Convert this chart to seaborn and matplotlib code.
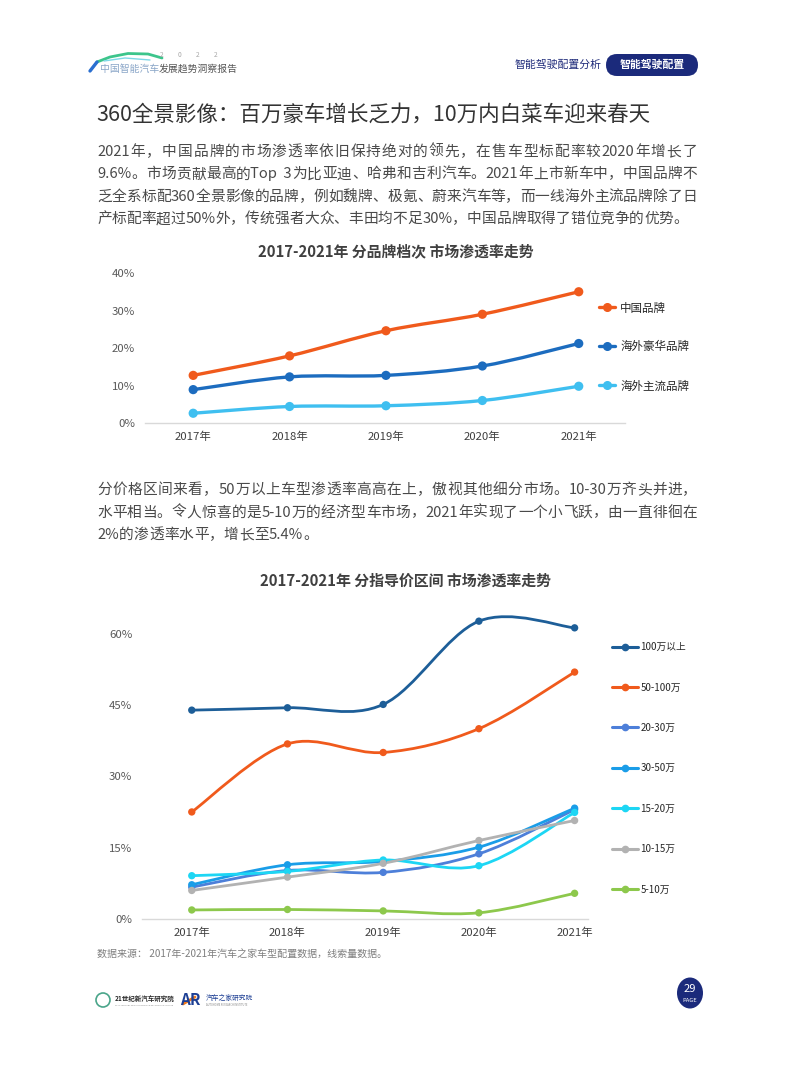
import re
import numpy as np
import pandas as pd
import seaborn as sns
import matplotlib
matplotlib.use("Agg")
import matplotlib.pyplot as plt
from matplotlib.path import Path
from matplotlib.patches import PathPatch, Ellipse, FancyBboxPatch
from matplotlib.lines import Line2D
from matplotlib.ticker import PercentFormatter
from matplotlib.transforms import IdentityTransform
from matplotlib.font_manager import FontProperties

# ---------------- data ----------------
years = ["2017年", "2018年", "2019年", "2020年", "2021年"]

brand_names = ["中国品牌", "海外豪华品牌", "海外主流品牌"]
china_brand = [12.7, 17.9, 24.6, 29.0, 35.0]
lux_brand = [8.9, 12.3, 12.7, 15.2, 21.2]
main_brand = [2.6, 4.4, 4.6, 6.0, 9.8]
brand_colors = ["#f05a1c", "#1c6cbf", "#3fbff0"]

price_names = ["100万以上", "50-100万", "20-30万", "30-50万", "15-20万", "10-15万", "5-10万"]
p_100up = [43.9, 44.4, 45.1, 62.6, 61.2]
p_50_100 = [22.5, 36.8, 35.0, 40.0, 51.9]
p_20_30 = [6.7, 10.2, 9.8, 13.7, 23.0]
p_30_50 = [7.2, 11.4, 12.1, 15.1, 23.3]
p_15_20 = [9.1, 10.0, 12.4, 11.2, 22.4]
p_10_15 = [6.0, 8.8, 11.7, 16.5, 20.7]
p_5_10 = [1.9, 2.0, 1.7, 1.3, 5.4]
price_colors = ["#1d5e98", "#f05a1c", "#4d7fd9", "#1a9de8", "#1dd6f4", "#b2b2b2", "#8dc84c"]

brand_ticks = [0, 10, 20, 30, 40]
price_ticks = [0, 15, 30, 45, 60]

# ---------------- page helpers ----------------
W, H = 793, 1077
sns.set_theme(style="white")
plt.rcParams["font.family"] = ["Noto Sans CJK SC", "DejaVu Sans"]
plt.rcParams["axes.unicode_minus"] = False

fig = plt.figure(figsize=(W / 100, H / 100), dpi=100)
fig.patch.set_facecolor("white")
renderer = fig.canvas.get_renderer()


def fx(px):
    return px / W


def fy(py):
    return 1 - py / H


def ptext(x, y, s, **kw):
    kw.setdefault("va", "center")
    return fig.text(fx(x), fy(y), s, **kw)


def text_w(s, size):
    fp = FontProperties(family="Noto Sans CJK SC", size=size)
    w, _, _ = renderer.get_text_width_height_descent(s, fp, ismath=False)
    return w


def justified_line(x0, y, line, size, target, color):
    tokens = re.findall(r"[A-Za-z0-9.%\- ]+|.", line)
    ref = text_w("中", size)
    natural = text_w(line + "中", size) - ref
    gap = 0.0
    if target is not None and len(tokens) > 1 and target > natural:
        gap = (target - natural) / (len(tokens) - 1)
    prefix = ""
    for k, tok in enumerate(tokens):
        xk = (text_w(prefix + "中", size) - ref) if prefix else 0.0
        ptext(x0 + xk + k * gap, y, tok, fontsize=size, color=color)
        prefix += tok


def smooth_path(xs, ys):
    n = len(xs)
    verts = [(xs[0], ys[0])]
    codes = [Path.MOVETO]
    for i in range(n - 1):
        p0 = (xs[i - 1], ys[i - 1]) if i > 0 else (xs[i], ys[i])
        p1 = (xs[i], ys[i])
        p2 = (xs[i + 1], ys[i + 1])
        p3 = (xs[i + 2], ys[i + 2]) if i + 2 < n else p2
        c1 = (p1[0] + (p2[0] - p0[0]) / 6, p1[1] + (p2[1] - p0[1]) / 6)
        c2 = (p2[0] - (p3[0] - p1[0]) / 6, p2[1] - (p3[1] - p1[1]) / 6)
        verts += [c1, c2, p2]
        codes += [Path.CURVE4] * 3
    return Path(verts, codes)


def draw_series(ax, df, names, colors, lw, ms):
    xs = np.arange(len(years))
    for name, col in zip(names, colors):
        sub = df[df["series"] == name]
        ax.add_patch(PathPatch(smooth_path(xs, sub["value"].values), fill=False,
                               edgecolor=col, lw=lw, capstyle="round", zorder=2))
    sns.scatterplot(data=df, x="xi", y="value", hue="series", hue_order=names,
                    palette=colors, s=ms, edgecolor="none", legend=False, ax=ax, zorder=3)


def style_axes(ax, ticks, ylim, xlim):
    ax.set_xlim(*xlim)
    ax.set_ylim(*ylim)
    ax.set_yticks(ticks)
    ax.yaxis.set_major_formatter(PercentFormatter(xmax=100, decimals=0))
    ax.set_xticks(range(len(years)))
    ax.set_xticklabels(years)
    ax.set_xlabel("")
    ax.set_ylabel("")
    for s in ["top", "right", "left"]:
        ax.spines[s].set_visible(False)
    ax.spines["bottom"].set_color("#d9d9d9")
    ax.spines["bottom"].set_linewidth(1.0)
    ax.tick_params(axis="y", length=0, pad=7, labelsize=8.2, labelcolor="#595959")
    ax.tick_params(axis="x", length=0, pad=6, labelsize=8.2, labelcolor="#404040")
    ax.grid(False)
    ax.set_facecolor("none")


# ---------------- header ----------------
fig.add_artist(Line2D([fx(97), fx(110), fx(128), fx(148), fx(162)],
                      [fy(62), fy(57), fy(53.5), fy(54), fy(58)],
                      color="#3cc58c", lw=2.0, transform=fig.transFigure,
                      solid_capstyle="round"))
fig.add_artist(Line2D([fx(104), fx(125), fx(150)], [fy(61), fy(58), fy(60)],
                      color="#7fd8e8", lw=1.0, transform=fig.transFigure))
fig.add_artist(Line2D([fx(90), fx(97)], [fy(71), fy(62)], color="#2a6fd0", lw=2.4,
                      transform=fig.transFigure, solid_capstyle="round"))
for i, d in enumerate("2022"):
    ptext(160 + i * 18, 55, d, fontsize=4.8, color="#a8a8a8")
ptext(100, 69, "中国智能汽车", fontsize=7.1, color="#8aa6c8")
ptext(159, 69, "发展趋势洞察报告", fontsize=7.1, color="#555555")

ptext(515, 65, "智能驾驶配置分析", fontsize=7.8, color="#1f2b7a")
fig.add_artist(FancyBboxPatch((606, H - 76), 92, 22,
                              boxstyle="round,pad=0,rounding_size=11",
                              facecolor="#1b2a7b", edgecolor="none",
                              transform=IdentityTransform()))
ptext(652, 65, "智能驾驶配置", fontsize=7.8, color="white", ha="center", fontweight="bold")

# ---------------- title & paragraphs ----------------
ptext(96, 115, "360全景影像：百万豪车增长乏力，10万内白菜车迎来春天",
      fontsize=15.5, color="#333333")

para_size = 10.6
para1 = [
    "2021年，中国品牌的市场渗透率依旧保持绝对的领先，在售车型标配率较2020年增长了",
    "9.6%。市场贡献最高的Top  3为比亚迪、哈弗和吉利汽车。2021年上市新车中，中国品牌不",
    "乏全系标配360全景影像的品牌，例如魏牌、极氪、蔚来汽车等，而一线海外主流品牌除了日",
    "产标配率超过50%外，传统强者大众、丰田均不足30%，中国品牌取得了错位竞争的优势。",
]
targets1 = [600, 600, 600, 586]
for i, line in enumerate(para1):
    justified_line(97, 152 + i * 22.4, line, para_size, targets1[i], "#4a4a4a")

para2 = [
    "分价格区间来看，50万以上车型渗透率高高在上，傲视其他细分市场。10-30万齐头并进，",
    "水平相当。令人惊喜的是5-10万的经济型车市场，2021年实现了一个小飞跃，由一直徘徊在",
    "2%的渗透率水平，增长至5.4%。",
]
targets2 = [600, 600, 221]
for i, line in enumerate(para2):
    justified_line(97, 490 + i * 22.5, line, para_size, targets2[i], "#4a4a4a")

# ---------------- chart 1 ----------------
ptext(396, 251, "2017-2021年 分品牌档次 市场渗透率走势", fontsize=10.7,
      fontweight="bold", color="#404040", ha="center")

brand_df = pd.DataFrame({
    "series": np.repeat(brand_names, len(years)),
    "xi": np.tile(np.arange(len(years)), len(brand_names)),
    "value": china_brand + lux_brand + main_brand,
})
ax1 = fig.add_axes([fx(145), fy(423), (625 - 145) / W, (423 - 273) / H])
draw_series(ax1, brand_df, brand_names, brand_colors, lw=2.4, ms=44)
style_axes(ax1, brand_ticks, (0, 40), (-0.5, 4.48))

h1 = [Line2D([], [], color=c, lw=2.4, marker="o", markersize=5.5) for c in brand_colors]
fig.legend(h1, brand_names, loc="upper left", bbox_to_anchor=(fx(599), fy(301.5)),
           frameon=False, fontsize=8.3, handlelength=1.35, handletextpad=0.5,
           labelspacing=2.25, borderpad=0, borderaxespad=0)

# ---------------- chart 2 ----------------
ptext(406, 581, "2017-2021年 分指导价区间 市场渗透率走势", fontsize=10.75,
      fontweight="bold", color="#404040", ha="center")

price_df = pd.DataFrame({
    "series": np.repeat(price_names, len(years)),
    "xi": np.tile(np.arange(len(years)), len(price_names)),
    "value": p_100up + p_50_100 + p_20_30 + p_30_50 + p_15_20 + p_10_15 + p_5_10,
})
ax2 = fig.add_axes([fx(142), fy(919), (588 - 142) / W, (919 - 605) / H])
draw_series(ax2, price_df, price_names, price_colors, lw=2.0, ms=28)
style_axes(ax2, price_ticks, (0, 66), (-0.52, 4.14))

h2 = [Line2D([], [], color=c, lw=2.2, marker="o", markersize=4.5) for c in price_colors]
fig.legend(h2, price_names, loc="upper left", bbox_to_anchor=(fx(612), fy(642)),
           frameon=False, fontsize=7, handlelength=2.7, handletextpad=0.2,
           labelspacing=3.13, borderpad=0, borderaxespad=0)

ptext(97, 954, "数据来源： 2017年-2021年汽车之家车型配置数据，线索量数据。",
      fontsize=7.2, color="#7f7f7f")

# ---------------- footer ----------------
fig.add_artist(Ellipse((fx(103), fy(1000)), 14 / W, 14 / H, facecolor="none",
                       edgecolor="#4aa58a", lw=1.2, transform=fig.transFigure))
ptext(115, 998, "21世纪新汽车研究院", fontsize=4.7, color="#2a2a2a", fontweight="bold")
ptext(115, 1005, "21ST CENTURY NEW AUTOMOBILE RESEARCH INSTITUTE", fontsize=1.6,
      color="#888888")
ptext(180, 1000, "A", fontsize=11, color="#1d3f94", fontweight="bold")
ptext(189.5, 1000, "R", fontsize=11, color="#1d3f94", fontweight="bold")
fig.add_artist(Line2D([fx(183), fx(195)], [fy(1004), fy(997)], color="#f07a1c", lw=2,
                      transform=fig.transFigure))
ptext(206, 998, "汽车之家研究院", fontsize=4.9, color="#1d3f94")
ptext(206, 1005, "AUTOHOME RESEARCH INSTITUTE", fontsize=1.9, color="#888888")

fig.add_artist(Ellipse((fx(690), fy(993)), 26 / W, 31 / H, facecolor="#1b2a7b",
                       edgecolor="none", transform=fig.transFigure))
ptext(690, 989, "29", fontsize=8, color="white", ha="center")
ptext(690, 1001, "PAGE", fontsize=4.2, color="white", ha="center")

fig.savefig("out.png", dpi=100, facecolor="white")
